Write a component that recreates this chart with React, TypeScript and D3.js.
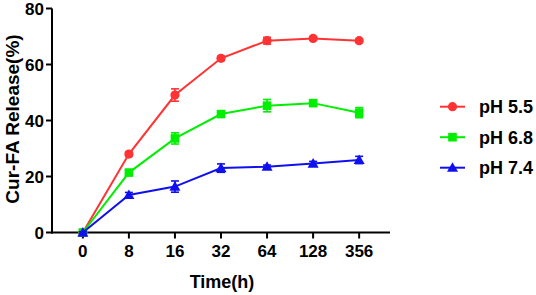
import React from "react";
import * as d3 from "d3";

const categories = ["0", "8", "16", "32", "64", "128", "356"];
const seriesNames = ["pH 5.5", "pH 6.8", "pH 7.4"];
const colors = ["#ff3333", "#00ee00", "#1010ee"];
const ph55 = [0, 28.0, 49.1, 62.2, 68.5, 69.3, 68.5];
const ph55Err = [0.3, 0.8, 2.2, 0.8, 1.2, 0.6, 0.6];
const ph68 = [0, 21.4, 33.6, 42.3, 45.3, 46.2, 42.8];
const ph68Err = [0.3, 0.8, 2.0, 0.8, 2.2, 1.0, 1.8];
const ph74 = [0, 13.4, 16.4, 23.0, 23.5, 24.6, 25.9];
const ph74Err = [0.3, 0.9, 2.0, 1.5, 0.6, 0.8, 1.3];
const yTicks = [0, 20, 40, 60, 80];

const values = [ph55, ph68, ph74];
const errors = [ph55Err, ph68Err, ph74Err];

function Marker({ kind, x, y, color }: { kind: number; x: number; y: number; color: string }) {
  if (kind === 0) return <circle cx={x} cy={y} r={4.6} fill={color} />;
  if (kind === 1) return <rect x={x - 4.3} y={y - 4.3} width={8.6} height={8.6} fill={color} />;
  const s = 5.5;
  return <path d={`M${x},${y - s}L${x + s},${y + s * 0.75}L${x - s},${y + s * 0.75}Z`} fill={color} />;
}

export default function App() {
  const x = d3.scaleLinear().domain([-0.67, 6.67]).range([52, 390]);
  const y = d3.scaleLinear().domain([0, 80]).range([232.5, 8.5]);
  const font = "Arial, 'Liberation Sans', sans-serif";
  const line = d3.line<number>().x((_, i) => x(i)).y((d) => y(d));

  return (
    <svg width={536} height={295} style={{ position: "absolute", left: 0, top: 0 }} fontFamily={font}>
      <rect width={536} height={295} fill="#fff" />
      {/* axes */}
      <line x1={52} x2={52} y1={y(80)} y2={y(0) + 1} stroke="#000" strokeWidth={2} />
      <line x1={51} x2={x(6.67)} y1={y(0)} y2={y(0)} stroke="#000" strokeWidth={2} />
      {yTicks.map((t) => (
        <g key={t}>
          <line x1={46} x2={52} y1={y(t)} y2={y(t)} stroke="#000" strokeWidth={2} />
          <text x={44} y={y(t)} dy="0.36em" textAnchor="end" fontSize={17} fontWeight="bold">
            {t}
          </text>
        </g>
      ))}
      {categories.map((c, i) => (
        <g key={c}>
          <line x1={x(i)} x2={x(i)} y1={y(0)} y2={y(0) + 6} stroke="#000" strokeWidth={2} />
          <text x={x(i)} y={257} textAnchor="middle" fontSize={17} fontWeight="bold">
            {c}
          </text>
        </g>
      ))}
      <text x={222} y={288} textAnchor="middle" fontSize={18} fontWeight="bold">
        Time(h)
      </text>
      <text
        transform={`translate(19,119) rotate(-90)`}
        textAnchor="middle"
        fontSize={19}
        fontWeight="bold"
      >
        Cur-FA Release(%)
      </text>
      {/* series */}
      {values.map((vals, s) => (
        <g key={s}>
          <path d={line(vals) || ""} fill="none" stroke={colors[s]} strokeWidth={2} />
          {vals.map((v, i) => {
            const e = errors[s][i];
            return (
              <g key={i} stroke={colors[s]} strokeWidth={1.6}>
                <line x1={x(i)} x2={x(i)} y1={y(v + e)} y2={y(v - e)} />
                <line x1={x(i) - 4} x2={x(i) + 4} y1={y(v + e)} y2={y(v + e)} />
                <line x1={x(i) - 4} x2={x(i) + 4} y1={y(v - e)} y2={y(v - e)} />
              </g>
            );
          })}
          {vals.map((v, i) => (
            <Marker key={i} kind={s} x={x(i)} y={y(v)} color={colors[s]} />
          ))}
        </g>
      ))}
      {/* legend */}
      {seriesNames.map((n, s) => {
        const ly = 106.7 + s * 30.5;
        return (
          <g key={n}>
            <line x1={440} x2={465} y1={ly} y2={ly} stroke={colors[s]} strokeWidth={2} />
            <Marker kind={s} x={452.5} y={ly} color={colors[s]} />
            <text x={479} y={ly} dy="0.36em" fontSize={18} fontWeight="bold">
              {n}
            </text>
          </g>
        );
      })}
    </svg>
  );
}
